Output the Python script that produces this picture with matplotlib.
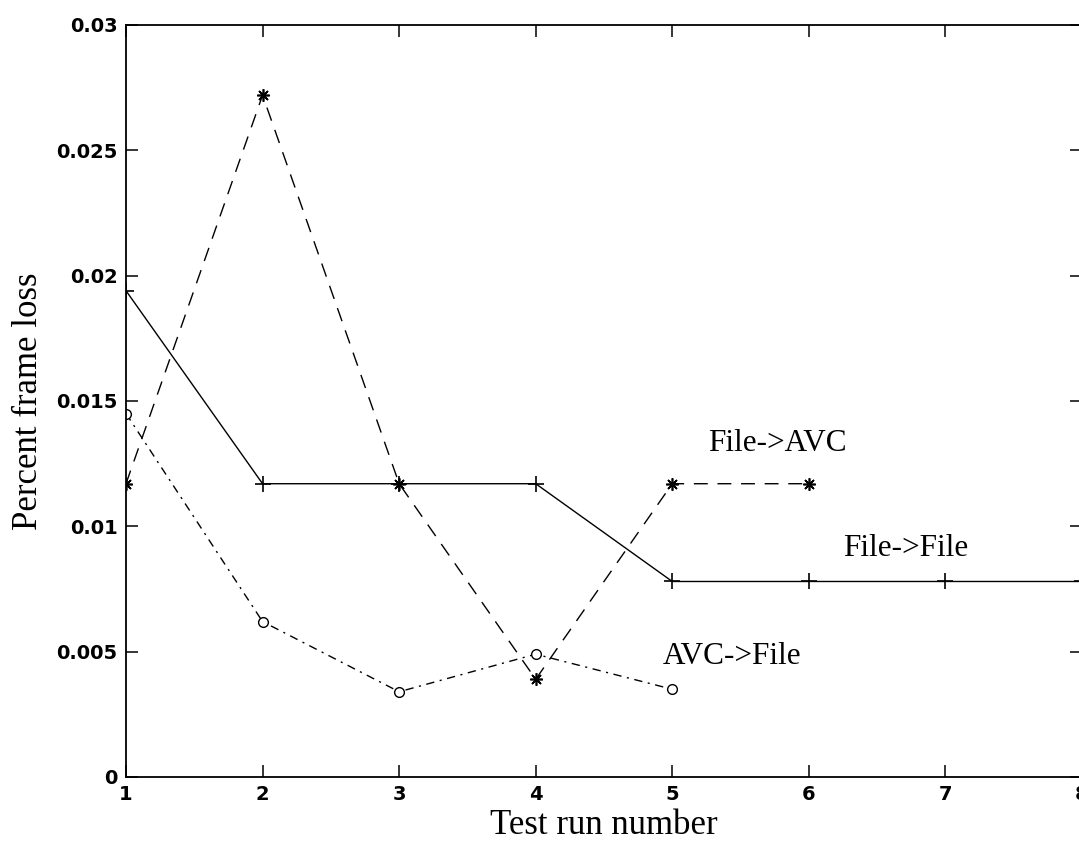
import numpy as np
import matplotlib.pyplot as plt

runs = [1, 2, 3, 4, 5, 6, 7, 8]
file_file = [0.0194, 0.0117, 0.0117, 0.0117, 0.0078, 0.0078, 0.0078, 0.0078]
runs_avc = [1, 2, 3, 4, 5, 6]
file_avc = [0.0117, 0.0272, 0.0117, 0.0039, 0.0117, 0.0117]
runs_back = [1, 2, 3, 4, 5]
avc_file = [0.0145, 0.0062, 0.0034, 0.0049, 0.0035]

yticks = [0, 0.005, 0.01, 0.015, 0.02, 0.025, 0.03]
ytick_labels = ['0', '0.005', '0.01', '0.015', '0.02', '0.025', '0.03']

fig = plt.figure(figsize=(10.79, 8.44), dpi=100)
# right edge of the axes lies just past the figure, as in the original crop
ax = fig.add_axes([126 / 1079, 67 / 844, 956 / 1079, 752 / 844])

ax.plot(runs, file_file, color='black', lw=1.0, marker='+', ms=11, mew=1.2)
ax.plot(runs_avc, file_avc, color='black', lw=1.0, dashes=(10, 7),
        marker=(8, 2, 0), ms=9, mew=1.2)
ax.plot(runs_back, avc_file, color='black', lw=1.0, dashes=(6, 4, 1.5, 4),
        marker='o', ms=7, mfc='white', mew=1.0)

ax.set_xlim(1, 8)
ax.set_ylim(0, 0.03)
ax.set_xticks(runs)
ax.set_yticks(yticks)
ax.set_yticklabels(ytick_labels)

serif = ['Liberation Serif', 'DejaVu Serif']
ax.text(5.26, 0.0133, 'File->AVC', family=serif, fontsize=22.5, va='center')
ax.text(6.25, 0.0091, 'File->File', family=serif, fontsize=22.5, va='center')
ax.text(4.93, 0.0048, 'AVC->File', family=serif, fontsize=22.5, va='center')

ax.set_xlabel('Test run number', family=serif, fontsize=25, labelpad=3)
ax.set_ylabel('Percent frame loss', family=serif, fontsize=25, labelpad=8)

ax.tick_params(direction='in', length=8.5, width=1.1, top=True, right=True,
               pad=6, labelsize=14)
for lab in ax.get_xticklabels() + ax.get_yticklabels():
    lab.set_fontweight('bold')
    lab.set_family('DejaVu Sans')
for sp in ax.spines.values():
    sp.set_linewidth(1.3)

fig.savefig('out.png', dpi=100)
